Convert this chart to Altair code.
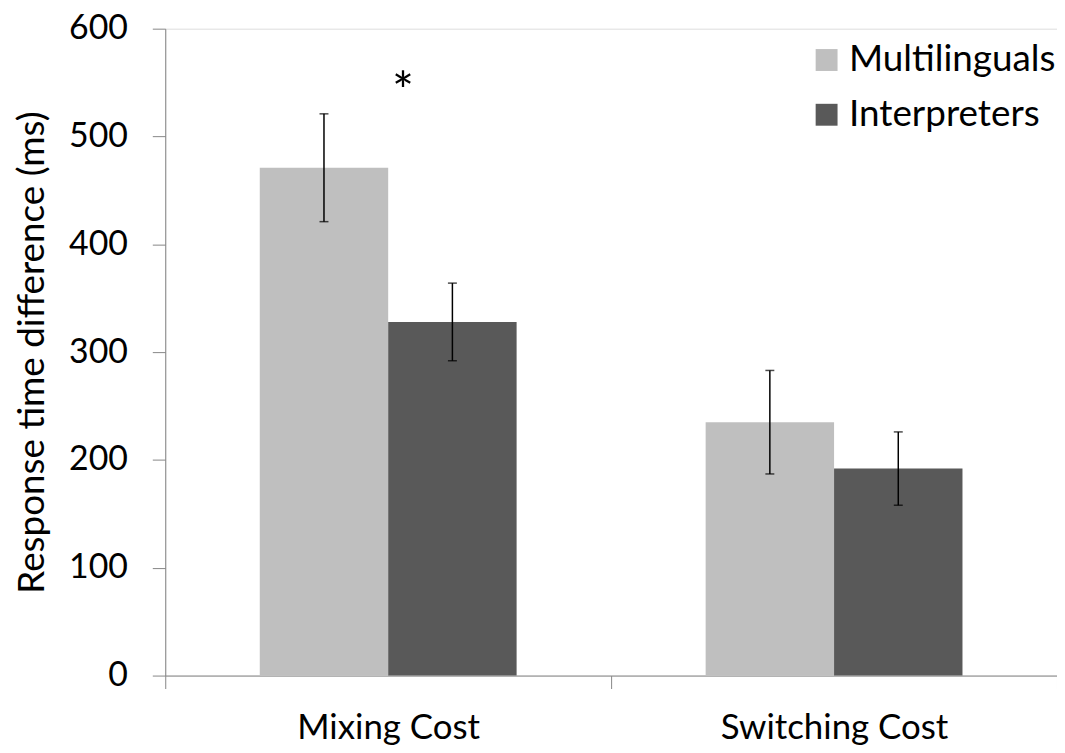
import altair as alt
import pandas as pd

categories = ["Mixing Cost", "Mixing Cost", "Switching Cost", "Switching Cost"]
groups = ["Multilinguals", "Interpreters", "Multilinguals", "Interpreters"]
means = [471, 328, 235, 192]
errors = [50, 36, 48, 34]

star_category = ["Mixing Cost"]
star_value = [525]
star_text = ["*"]

df = pd.DataFrame({"category": categories, "group": groups, "mean": means, "err": errors})
df["lo"] = df["mean"] - df["err"]
df["hi"] = df["mean"] + df["err"]
star_df = pd.DataFrame({"category": star_category, "value": star_value, "text": star_text})

FONT = "Lato"
cat_order = ["Mixing Cost", "Switching Cost"]
grp_order = ["Multilinguals", "Interpreters"]

x = alt.X("category:N", sort=cat_order,
          scale=alt.Scale(paddingInner=0, paddingOuter=0),
          axis=alt.Axis(title=None, labelAngle=0, tickBand="extent", tickSize=13, labelLimit=0,
                        labelBaseline="alphabetic", labelPadding=50,
                        labelFontSize=35, labelFont=FONT, labelColor="black",
                        domainColor="#868686", tickColor="#868686"))
xo = alt.XOffset("group:N", sort=grp_order, scale=alt.Scale(paddingInner=0, paddingOuter=0.736))

y = alt.Y("mean:Q", scale=alt.Scale(domain=[0, 600]),
          axis=alt.Axis(title="Response time difference (ms)", values=[0, 100, 200, 300, 400, 500, 600],
                        grid=False, tickSize=13, labelPadding=25, labelFontSize=34, labelFont=FONT,
                        labelColor="black", domainColor="#868686", tickColor="#868686",
                        titleFontSize=37, titleFont=FONT, titleFontWeight="normal", titleColor="black",
                        titleX=-122, titleY=325, titleAngle=270, titleAlign="center",
                        titleBaseline="alphabetic"))

bars = alt.Chart(df).mark_bar().encode(
    x=x, xOffset=xo, y=y,
    color=alt.Color("group:N", sort=grp_order,
                    scale=alt.Scale(domain=grp_order, range=["#BFBFBF", "#595959"]),
                    legend=alt.Legend(title=None, orient="none", legendX=646, legendY=13,
                                      symbolType="square", symbolSize=484, symbolStrokeWidth=0,
                                      labelFontSize=37, labelFont=FONT, labelColor="black",
                                      labelLimit=0, labelOffset=4, rowPadding=17, padding=0)),
)

rules = alt.Chart(df).mark_rule(color="black", strokeWidth=1.5).encode(
    x=alt.X("category:N", sort=cat_order), xOffset=xo,
    y="lo:Q", y2="hi:Q")

caps_lo = alt.Chart(df).mark_tick(color="black", thickness=1.5, size=9).encode(
    x=alt.X("category:N", sort=cat_order), xOffset=xo, y="lo:Q")
caps_hi = alt.Chart(df).mark_tick(color="black", thickness=1.5, size=9).encode(
    x=alt.X("category:N", sort=cat_order), xOffset=xo, y="hi:Q")

star = alt.Chart(star_df).mark_text(fontSize=52, font=FONT, color="black", dx=15,
                                    baseline="alphabetic").encode(
    x=alt.X("category:N", sort=cat_order), y="value:Q", text="text:N")

chart = alt.layer(bars, rules, caps_lo, caps_hi, star).properties(
    width=896, height=650,
    autosize=alt.AutoSizeParams(type="none"),
    padding={"left": 158, "top": 19, "right": 0, "bottom": 70},
).configure_view(stroke=None).configure(background="white")

chart.save("out.html", embed_options={"renderer": "svg", "actions": False})
